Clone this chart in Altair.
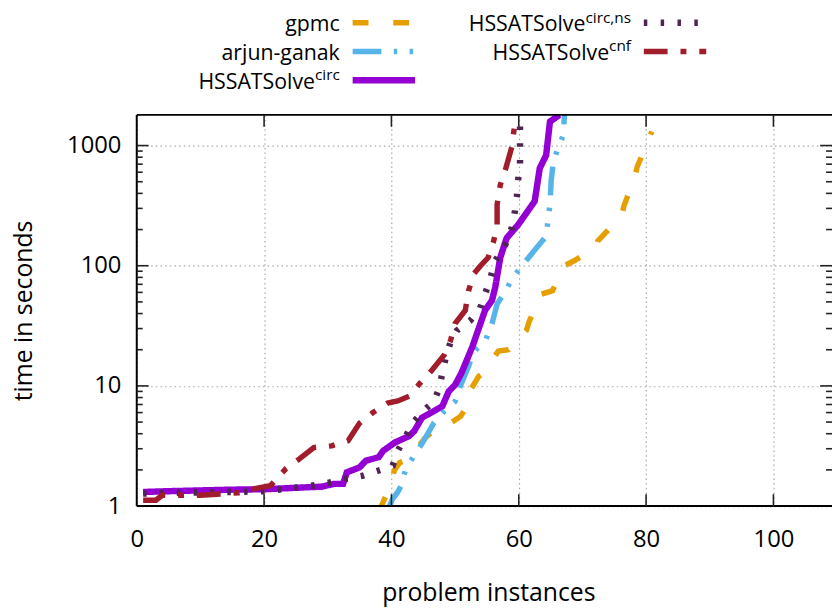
import altair as alt
import pandas as pd

# ---------------- data ----------------
gpmc_x = [38.0, 38.7, 39.4, 40.5, 41.3, 42.3, 44.0, 45.3, 47.0, 49.0, 50.9, 51.4, 52.6, 53.7, 54.2,
          56.8, 58.4, 61.2, 61.7, 63.6, 65.3, 67.2, 68.7, 72.1, 72.4, 74.5, 76.2, 76.5, 78.3, 78.6,
          80.1, 80.9]
gpmc_y = [0.9, 1.08, 1.31, 2.0, 2.3, 2.4, 3.0, 3.7, 4.4, 4.8, 5.6, 6.2, 9.6, 12.0, 12.5,
          19.5, 20.0, 29, 35, 58, 62, 100, 110, 141, 160, 210, 267, 312, 566, 666,
          1020, 1310]

arjun_x = [39.3, 40.2, 41.0, 41.6, 42.2, 43.4, 44.9, 46.7, 48.3, 50.0, 50.9, 52.1, 52.9, 54.8,
           55.8, 56.6, 57.9, 59.1, 60.7, 62.8, 64.3, 64.6, 64.9, 65.1, 65.4, 66.1, 67.0, 67.2]
arjun_y = [0.9, 1.15, 1.31, 1.5, 2.0, 2.55, 3.38, 4.94, 6.16, 7.44, 10.2, 14.5, 19.2, 24,
           33, 48, 61.5, 80, 103, 141, 176, 241, 323, 516, 710, 940, 1220, 1900]

circ_x = [1, 5, 10, 15, 20, 25, 29, 31, 32.4, 33, 35, 36, 38, 38.7, 40.5, 42.8, 43.6, 44.8,
          46.5, 48, 49, 50, 51, 52.7, 54.7, 55.8, 56.3, 57.1, 58.1, 59.9, 62.5, 63.3, 64.3,
          64.9, 66.4]
circ_y = [1.31, 1.33, 1.35, 1.37, 1.38, 1.42, 1.45, 1.53, 1.53, 1.91, 2.1, 2.39, 2.55, 2.88,
          3.37, 3.83, 4.22, 5.44, 6.1, 6.78, 9.0, 10.2, 12.8, 21.1, 42.5, 51.5, 66, 117, 170,
          219, 344, 648, 830, 1580, 1800]

ns_x = [1, 5, 10, 15, 20, 23.4, 26, 28.3, 30.6, 33, 35.5, 37.9, 40.2, 41, 43.4, 45, 46.7, 47.5,
        48, 48.5, 49.3, 50.3, 52.4, 53.9, 54.7, 55.5, 56.3, 57.9, 58.9, 59.4, 59.7, 59.9, 60.2,
        60.2]
ns_y = [1.27, 1.29, 1.3, 1.31, 1.33, 1.39, 1.44, 1.5, 1.58, 1.69, 1.79, 1.97, 2.17, 2.88, 4.94,
        6.2, 7.44, 9.6, 12.8, 17, 23.3, 29, 35, 44, 58, 77, 110, 150, 207, 284, 376, 516, 690,
        1800]

cnf_x = [1, 3, 4, 7, 10, 14, 16, 18.4, 21, 23.4, 25.5, 27.8, 30.6, 33.2, 35, 37.1, 39.4, 41,
         42.8, 44.4, 46.2, 48.3, 49.3, 50, 51.6, 52.1, 52.9, 54, 55.2, 56, 56.6, 56.6, 57.1,
         57.9, 58.9, 59.3]
cnf_y = [1.12, 1.12, 1.23, 1.23, 1.23, 1.27, 1.29, 1.39, 1.48, 2.04, 2.46, 3.07, 3.17, 3.5,
         4.9, 6.0, 7.2, 7.5, 8.2, 10.4, 13.2, 18.1, 24, 33, 42.5, 61.5, 85, 100, 117, 156, 213,
         323, 470, 630, 970, 1400]

series_names = ["gpmc", "arjun-ganak", "HSSATSolve", "HSSATSolve", "HSSATSolve"]
series_sups = ["", "", "circ", "circ,ns", "cnf"]
series_colors = ["#E69F00", "#56B4E9", "#9400D3", "#4f2552", "#a11d2b"]
series_dash = [[16, 25], [29, 12.5, 3.5, 12.5, 3.5, 12.5], [1, 0], [3.5, 13.5], [24, 13, 6, 13]]
series_width = [5.5, 5.5, 6.5, 6.5, 5.5]
series_xs = [gpmc_x, arjun_x, circ_x, ns_x, cnf_x]
series_ys = [gpmc_y, arjun_y, circ_y, ns_y, cnf_y]

x_ticks = [0, 20, 40, 60, 80, 100]
y_ticks = [1, 10, 100, 1000]
y_minor = [m * 10 ** k for k in range(3) for m in range(2, 10)]

# ---------------- layout ----------------
W, H = 702, 395
XMAX = 109.2
FONT = "Open Sans"

xscale = alt.Scale(domain=[0, XMAX], nice=False, zero=False)
yscale = alt.Scale(type="log", domain=[1, 1800], nice=False)

x_axis = alt.Axis(values=x_ticks, grid=True, gridDash=[1.5, 3.2], gridColor="#a8a8a8",
                  gridWidth=1.2, ticks=False, domain=False, labelFont=FONT, labelFontSize=24,
                  labelColor="black", labelPadding=22, labelFlush=False,
                  title="problem instances", titleFont=FONT, titleFontSize=25,
                  titleFontWeight="normal", titleColor="black", titleBaseline="middle",
                  titleX=355, titleY=87)
y_axis = alt.Axis(values=y_ticks, format="d", grid=True, gridDash=[1.5, 3.2],
                  gridColor="#a8a8a8", gridWidth=1.2, ticks=False, domain=False,
                  labelFont=FONT, labelFontSize=24, labelColor="black", labelPadding=16,
                  labelFlush=False, title="time in seconds", titleFont=FONT, titleFontSize=25,
                  titleFontWeight="normal", titleColor="black", titleBaseline="middle",
                  titleX=-114, titleY=H / 2)

layers = []

# series lines
for i in range(5):
    df = pd.DataFrame({"x": series_xs[i], "y": series_ys[i], "i": range(len(series_xs[i]))})
    layers.append(
        alt.Chart(df).mark_line(color=series_colors[i], strokeWidth=series_width[i],
                                strokeDash=series_dash[i], clip=True)
        .encode(x=alt.X("x:Q", scale=xscale, axis=x_axis),
                y=alt.Y("y:Q", scale=yscale, axis=y_axis),
                order=alt.Order("i:Q"))
    )

one = pd.DataFrame({"a": [0]})
# borders (left, bottom, top)
layers.append(alt.Chart(one).mark_rule(color="black", strokeWidth=2)
              .encode(x=alt.value(0), y=alt.value(0), y2=alt.value(H)))
layers.append(alt.Chart(one).mark_rule(color="black", strokeWidth=2)
              .encode(x=alt.value(0), x2=alt.value(W), y=alt.value(H)))
layers.append(alt.Chart(one).mark_rule(color="black", strokeWidth=2)
              .encode(x=alt.value(0), x2=alt.value(W), y=alt.value(0)))

# inward ticks
xt = pd.DataFrame({"x": x_ticks[1:]})
for ya, yb in [(H, H - 12), (0, 12)]:
    layers.append(alt.Chart(xt).mark_rule(color="#222222", strokeWidth=1.6)
                  .encode(x=alt.X("x:Q", scale=xscale, axis=x_axis),
                          y=alt.value(ya), y2=alt.value(yb)))
yt = pd.DataFrame({"y": y_ticks[1:]})
ym = pd.DataFrame({"y": y_minor})
for d, L in [(yt, 12), (ym, 6)]:
    for xa, xb in [(0, L), (W, W - L)]:
        layers.append(alt.Chart(d).mark_rule(color="#222222", strokeWidth=1.6)
                      .encode(y=alt.Y("y:Q", scale=yscale, axis=y_axis),
                              x=alt.value(xa), x2=alt.value(xb)))

# legend (key above the plot, two columns)
leg_text_right = [205, 205, 205, 499, 499]
leg_row_y = [-93, -64, -35, -93, -64]
sup_width = {"": 0, "circ": 25, "circ,ns": 46, "cnf": 22}
for i in range(5):
    xr = leg_text_right[i]
    yr = leg_row_y[i]
    sup = series_sups[i]
    layers.append(alt.Chart(one).mark_text(text=series_names[i], font=FONT, fontSize=21.5,
                                           align="right", baseline="alphabetic", color="black")
                  .encode(x=alt.value(xr - sup_width[sup]), y=alt.value(yr + 8.5)))
    if sup:
        layers.append(alt.Chart(one).mark_text(text=sup, font=FONT, fontSize=15.5,
                                               align="right", baseline="alphabetic",
                                               color="black")
                      .encode(x=alt.value(xr), y=alt.value(yr)))
    layers.append(alt.Chart(one).mark_rule(color=series_colors[i], strokeWidth=series_width[i],
                                           strokeDash=series_dash[i])
                  .encode(x=alt.value(xr + 13), x2=alt.value(xr + 76), y=alt.value(yr)))

chart = alt.layer(*layers).properties(
    width=W, height=H,
    autosize=alt.AutoSizeParams(type="none"),
    padding={"left": 130, "top": 105, "right": 0, "bottom": 100},
).configure_view(stroke=None)

chart.save("out.html", embed_options={"renderer": "svg", "actions": False})
